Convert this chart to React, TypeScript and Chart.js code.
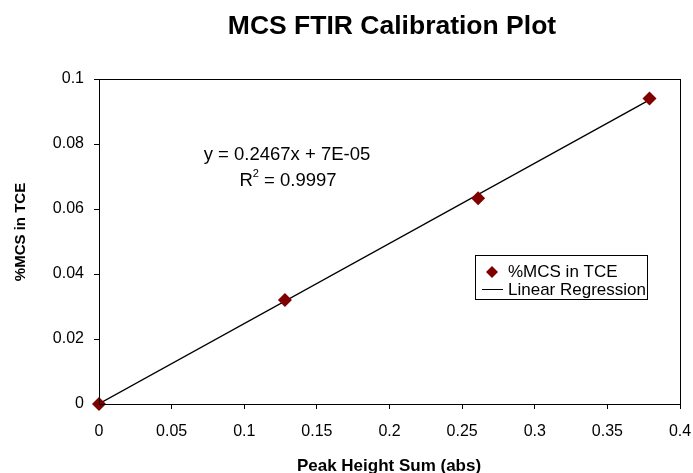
import React, { useEffect, useRef } from "react";
import { Chart, registerables } from "chart.js";

Chart.register(...registerables);

const FONT = "'Liberation Sans', Arial, Helvetica, sans-serif";

const CHART_TITLE = "MCS FTIR Calibration Plot";
const X_TITLE = "Peak Height Sum (abs)";
const Y_TITLE = "%MCS in TCE";
const SERIES_NAME = "%MCS in TCE";
const FIT_NAME = "Linear Regression";
const EQUATION = "y = 0.2467x + 7E-05";
const R2_TEXT = "= 0.9997";

const peakHeight = [0, 0.128, 0.261, 0.379];
const mcsPercent = [0, 0.032, 0.0633, 0.094];

const fitX = [0, 0.379];
const fitY = [0.00007, 0.09357];

const xTickLabels = ["0", "0.05", "0.1", "0.15", "0.2", "0.25", "0.3", "0.35", "0.4"];
const yTickLabels = ["0", "0.02", "0.04", "0.06", "0.08", "0.1"];

const MARKER_COLOR = "#800000";

const overlayPlugin = {
  id: "overlay",
  afterDraw(chart: any) {
    const ctx = chart.ctx as CanvasRenderingContext2D;
    const a = chart.chartArea;
    ctx.save();
    // plot frame
    ctx.strokeStyle = "#000";
    ctx.lineWidth = 1;
    ctx.strokeRect(Math.round(a.left) + 0.5, Math.round(a.top) + 0.5, Math.round(a.right - a.left), Math.round(a.bottom - a.top));

    ctx.fillStyle = "#000";
    // chart title
    ctx.font = `bold 26.5px ${FONT}`;
    ctx.textAlign = "center";
    ctx.textBaseline = "middle";
    ctx.fillText(CHART_TITLE, 392, 27);

    // x axis title
    ctx.font = `bold 17px ${FONT}`;
    ctx.fillText(X_TITLE, 389, 466);

    // y axis title
    ctx.save();
    ctx.translate(21, 232);
    ctx.rotate(-Math.PI / 2);
    ctx.font = `bold 15px ${FONT}`;
    ctx.fillText(Y_TITLE, 0, 0);
    ctx.restore();

    // equation
    ctx.font = `18.5px ${FONT}`;
    ctx.textAlign = "center";
    ctx.fillText(EQUATION, 287, 155);
    // R^2 line
    ctx.textAlign = "left";
    const rW = ctx.measureText("R").width;
    ctx.font = `11px ${FONT}`;
    const supW = ctx.measureText("2").width;
    ctx.font = `18.5px ${FONT}`;
    const restW = ctx.measureText(" " + R2_TEXT).width;
    const total = rW + supW + restW;
    const x0 = 288 - total / 2;
    ctx.fillText("R", x0, 181);
    ctx.font = `11px ${FONT}`;
    ctx.fillText("2", x0 + rW, 174);
    ctx.font = `18.5px ${FONT}`;
    ctx.fillText(" " + R2_TEXT, x0 + rW + supW, 181);

    // legend
    ctx.lineWidth = 1;
    ctx.strokeStyle = "#000";
    ctx.strokeRect(475.5, 255.5, 172, 44);
    ctx.fillStyle = MARKER_COLOR;
    ctx.beginPath();
    ctx.moveTo(492, 266);
    ctx.lineTo(498, 272);
    ctx.lineTo(492, 278);
    ctx.lineTo(486, 272);
    ctx.closePath();
    ctx.fill();
    ctx.beginPath();
    ctx.moveTo(482, 289.5);
    ctx.lineTo(503, 289.5);
    ctx.stroke();
    ctx.fillStyle = "#000";
    ctx.font = `17px ${FONT}`;
    ctx.textAlign = "left";
    ctx.textBaseline = "middle";
    ctx.fillText(SERIES_NAME, 508, 272);
    ctx.fillText(FIT_NAME, 508, 290);
    ctx.restore();
  },
};

export default function App() {
  const ref = useRef<HTMLCanvasElement>(null);

  useEffect(() => {
    if (!ref.current) return;
    const chart = new Chart(ref.current, {
      type: "scatter",
      data: {
        datasets: [
          {
            label: SERIES_NAME,
            data: peakHeight.map((x, i) => ({ x, y: mcsPercent[i] })),
            pointStyle: "rectRot",
            pointRadius: 7,
            pointBackgroundColor: MARKER_COLOR,
            pointBorderColor: MARKER_COLOR,
            pointBorderWidth: 0,
            showLine: false,
            clip: false,
          },
          {
            label: FIT_NAME,
            data: fitX.map((x, i) => ({ x, y: fitY[i] })),
            showLine: true,
            borderColor: "#000",
            borderWidth: 1.3,
            pointRadius: 0,
          },
        ],
      },
      options: {
        responsive: false,
        animation: false,
        layout: { padding: { left: 0, right: 13, top: 79, bottom: 0 } },
        plugins: {
          legend: { display: false },
          title: { display: false },
          tooltip: { enabled: false },
        },
        scales: {
          x: {
            type: "linear",
            min: 0,
            max: 0.4,
            afterFit: (s: any) => {
              s.height = 69;
              s.paddingLeft = 0;
              s.paddingRight = 0;
            },
            ticks: {
              stepSize: 0.05,
              font: { family: FONT, size: 16 },
              color: "#000",
              padding: 13,
              maxRotation: 0,
              callback: (_v: any, i: number) => xTickLabels[i],
            },
            grid: { display: true, drawOnChartArea: false, drawTicks: true, tickLength: 5, color: "#000" },
            border: { display: true, color: "#000", width: 1 },
          },
          y: {
            type: "linear",
            min: 0,
            max: 0.1,
            afterFit: (s: any) => {
              s.width = 99;
              s.paddingTop = 0;
              s.paddingBottom = 0;
            },
            ticks: {
              stepSize: 0.02,
              font: { family: FONT, size: 16 },
              color: "#000",
              padding: 10,
              callback: (_v: any, i: number) => yTickLabels[i],
            },
            grid: { display: true, drawOnChartArea: false, drawTicks: true, tickLength: 5, color: "#000" },
            border: { display: true, color: "#000", width: 1 },
          },
        },
      },
      plugins: [overlayPlugin],
    });
    return () => chart.destroy();
  }, []);

  return (
    <div style={{ position: "absolute", left: 0, top: 0, width: 693, height: 473, background: "#fff" }}>
      <canvas ref={ref} width={693} height={473} style={{ display: "block", width: 693, height: 473 }} />
    </div>
  );
}
